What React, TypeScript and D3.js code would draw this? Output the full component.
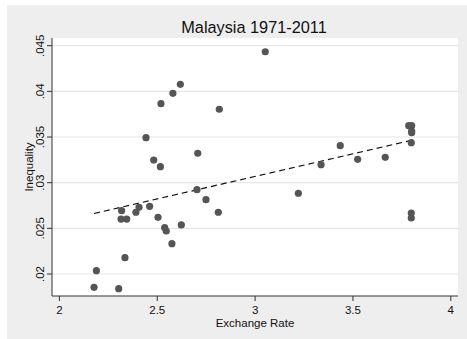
import React from "react";
import * as d3 from "d3";

const exchangeRate = [
  3.052, 2.618, 2.580, 2.519, 2.817,
  2.4425, 2.482, 2.516, 2.707, 2.703, 2.749, 2.812, 2.318, 2.315, 2.344,
  2.391, 2.407, 2.461, 2.504, 2.538, 2.546, 2.623, 3.221, 3.337, 3.435,
  3.524, 3.665, 3.785, 3.800, 3.800, 3.800, 3.798, 3.798, 3.798,
  2.575, 2.335, 2.189, 2.177, 2.303,
];
const inequality = [
  0.04434, 0.04077, 0.03979, 0.03865, 0.03804,
  0.03493, 0.03248, 0.03175, 0.03322, 0.02923, 0.02814, 0.02676, 0.02693, 0.02602, 0.02602,
  0.02676, 0.02730, 0.02741, 0.02621, 0.02507, 0.02471, 0.02537, 0.02884, 0.03197, 0.03405,
  0.03256, 0.03278, 0.03624, 0.03624, 0.03566, 0.03547, 0.03438, 0.02668, 0.02613,
  0.02332, 0.02179, 0.02036, 0.01854, 0.01839,
];
const fitIntercept = 0.01587;
const fitSlope = 0.00494;
const xTicks = [2, 2.5, 3, 3.5, 4];
const yTicks = [0.02, 0.025, 0.03, 0.035, 0.04, 0.045];
const yTickLabels = [".02", ".025", ".03", ".035", ".04", ".045"];
const title = "Malaysia 1971-2011";
const xTitle = "Exchange Rate";
const yTitle = "Inequality";

const W = 467, H = 339;
const plot = { left: 52, right: 458, top: 38, bottom: 296 };
const font = "'Liberation Sans', Arial, Helvetica, sans-serif";

export default function App() {
  const x = d3.scaleLinear().domain([2, 4]).range([59.4, 450.8]);
  const y = d3.scaleLinear().domain([0.02, 0.045]).range([274, 45.7]);
  const xMin = d3.min(exchangeRate)!;
  const xMax = d3.max(exchangeRate)!;
  const line = d3.line<number>().x((d) => x(d)).y((d) => y(fitIntercept + fitSlope * d));
  const midY = (plot.top + plot.bottom) / 2;
  return (
    <svg width={W} height={H} style={{ position: "absolute", left: 0, top: 0 }} fontFamily={font}>
      <rect x={0} y={0} width={W} height={H} fill="#ffffff" />
      <rect x={7} y={5} width={W - 7} height={H - 5} fill="#eeeeee" />
      <rect x={plot.left} y={plot.top} width={plot.right - plot.left} height={plot.bottom - plot.top} fill="#ffffff" />
      {yTicks.map((t) => (
        <line key={"g" + t} x1={plot.left} x2={plot.right} y1={y(t)} y2={y(t)} stroke="#e6e6e6" strokeWidth={1.2} />
      ))}
      <line x1={plot.left} x2={plot.left} y1={plot.top} y2={plot.bottom} stroke="#333" strokeWidth={1} />
      <line x1={plot.left} x2={plot.right} y1={plot.bottom} y2={plot.bottom} stroke="#333" strokeWidth={1} />
      {yTicks.map((t, i) => (
        <g key={"yt" + t}>
          <line x1={plot.left - 5} x2={plot.left} y1={y(t)} y2={y(t)} stroke="#333" />
          <text
            transform={`translate(${43.5},${y(t)}) rotate(-90)`}
            textAnchor="middle"
            fontSize={11.5}
            fill="#111"
          >
            {yTickLabels[i]}
          </text>
        </g>
      ))}
      {xTicks.map((t) => (
        <g key={"xt" + t}>
          <line x1={x(t)} x2={x(t)} y1={plot.bottom} y2={plot.bottom + 5} stroke="#333" />
          <text x={x(t)} y={314} textAnchor="middle" fontSize={11.5} fill="#111">
            {String(t)}
          </text>
        </g>
      ))}
      <text x={255} y={327} textAnchor="middle" fontSize={11.5} fill="#111">{xTitle}</text>
      <text transform={`translate(${32.5},${midY}) rotate(-90)`} textAnchor="middle" fontSize={11.5} fill="#111">
        {yTitle}
      </text>
      <text x={254} y={33} textAnchor="middle" fontSize={16.3} fill="#111">{title}</text>
      <path d={line([xMin, xMax])!} fill="none" stroke="#111" strokeWidth={1.2} strokeDasharray="6,4" />
      {exchangeRate.map((v, i) => (
        <circle key={i} cx={x(v)} cy={y(inequality[i])} r={3.6} fill="#555555" />
      ))}
    </svg>
  );
}
